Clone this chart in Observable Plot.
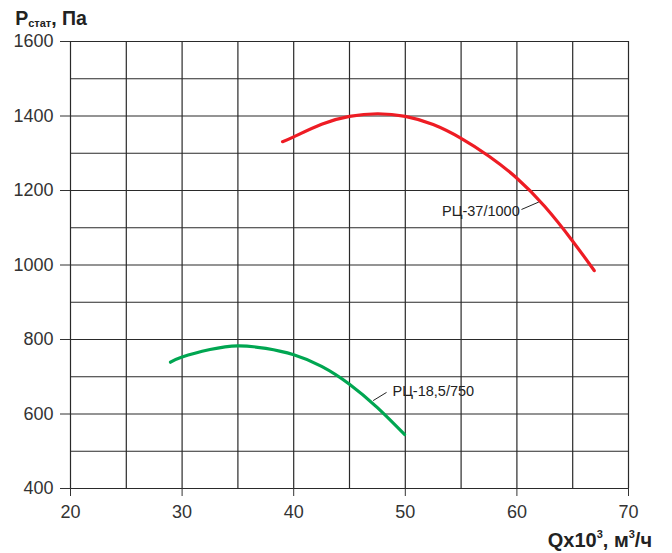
<!DOCTYPE html>
<html>
<head>
<meta charset="utf-8">
<script src="https://cdn.jsdelivr.net/npm/d3@7"></script>
<script src="https://cdn.jsdelivr.net/npm/@observablehq/plot@0.6"></script>
<style>
  html, body { margin: 0; padding: 0; background: #fff; }
  #chart { width: 672px; height: 553px; }
</style>
</head>
<body>
<div id="chart"></div>
<script>
// Data
const redQ = [39, 40, 42.5, 45, 47.5, 50, 52.5, 55, 57.5, 60, 62.5, 65, 66.93];
const redP = [1331, 1344, 1378, 1399, 1406, 1399, 1377, 1340, 1292, 1233, 1157, 1064, 985];
const greenQ = [28.96, 30, 32.5, 35, 37.5, 40, 42.5, 45, 47.5, 49.93];
const greenP = [739, 753, 773, 783, 776, 759, 728, 680, 617, 545];

const seriesNames = ["РЦ-37/1000", "РЦ-18,5/750"];
const labelQ = [60.25, 48.85];
const labelP = [1144, 660];
const leaderQ1 = [60.41, 47.12];
const leaderP1 = [1149, 636];
const leaderQ2 = [61.96, 48.32];
const leaderP2 = [1169, 658];

const xTicks = [20, 30, 40, 50, 60, 70];
const yTicks = [400, 600, 800, 1000, 1200, 1400, 1600];
const xGrid = d3.range(20, 70.01, 5);
const yGrid = d3.range(400, 1600.01, 100);

const red = redQ.map((q, i) => ({q, p: redP[i]}));
const green = greenQ.map((q, i) => ({q, p: greenP[i]}));
const labels = seriesNames.map((name, i) => ({name, q: labelQ[i], p: labelP[i]}));
const leaders = seriesNames.map((name, i) => ({q1: leaderQ1[i], p1: leaderP1[i], q2: leaderQ2[i], p2: leaderP2[i]}));

const plot = Plot.plot({
  width: 672,
  height: 553,
  marginLeft: 70,
  marginRight: 44,
  marginTop: 41,
  marginBottom: 65,
  style: {fontFamily: "'Liberation Sans', Arial, sans-serif", fontSize: "18px", color: "#333", background: "#fff"},
  x: {domain: [20, 70], ticks: xTicks, tickSize: 8, tickPadding: 9, label: null},
  y: {domain: [400, 1600], ticks: yTicks, tickSize: 10, tickPadding: 7, label: null},
  marks: [
    Plot.ruleX(xGrid, {stroke: "#2a2a2a", strokeWidth: 1.2}),
    Plot.ruleY(yGrid, {stroke: "#2a2a2a", strokeWidth: 1.2}),
    Plot.axisX({ticks: xTicks, tickSize: 8, tickPadding: 9, stroke: "#333", fill: "#333", fontSize: 18, label: null, tickFormat: d => String(d)}),
    Plot.axisY({ticks: yTicks, tickSize: 10, tickPadding: 7, stroke: "#333", fill: "#333", fontSize: 18, label: null, tickFormat: d => String(d)}),
    Plot.line(red, {x: "q", y: "p", stroke: "#ee1c24", strokeWidth: 3.2, curve: "natural"}),
    Plot.line(green, {x: "q", y: "p", stroke: "#00a651", strokeWidth: 3.2, curve: "natural"}),
    Plot.link(leaders, {x1: "q1", y1: "p1", x2: "q2", y2: "p2", stroke: "#222", strokeWidth: 1}),
    Plot.text(labels.slice(0, 1), {x: "q", y: "p", text: "name", textAnchor: "end", fontSize: 14.5, fill: "#222"}),
    Plot.text(labels.slice(1), {x: "q", y: "p", text: "name", textAnchor: "start", fontSize: 14.5, fill: "#222"})
  ]
});

const svg = d3.select(plot);
// Y axis title: Pстат, Па
const yt = svg.append("text")
  .attr("x", 51)
  .attr("y", 25)
  .attr("font-family", "'Liberation Sans', Arial, sans-serif")
  .attr("font-weight", "bold")
  .attr("font-size", 19.5)
  .attr("fill", "#222");
yt.append("tspan").text("P");
yt.append("tspan").attr("font-size", 11).attr("dy", 2).text("стат");
yt.append("tspan").attr("dy", -2).text(", Па");

// X axis title: Qx10³, м³/ч
const xt = svg.append("text")
  .attr("x", 652)
  .attr("y", 547)
  .attr("text-anchor", "end")
  .attr("font-family", "'Liberation Sans', Arial, sans-serif")
  .attr("font-weight", "bold")
  .attr("font-size", 20)
  .attr("fill", "#222");
xt.append("tspan").text("Qx10");
xt.append("tspan").attr("font-size", 11).attr("dy", -9).text("3");
xt.append("tspan").attr("dy", 9).text(", м");
xt.append("tspan").attr("font-size", 11).attr("dy", -9).text("3");
xt.append("tspan").attr("dy", 9).text("/ч");

document.getElementById("chart").appendChild(plot);
</script>
</body>
</html>
